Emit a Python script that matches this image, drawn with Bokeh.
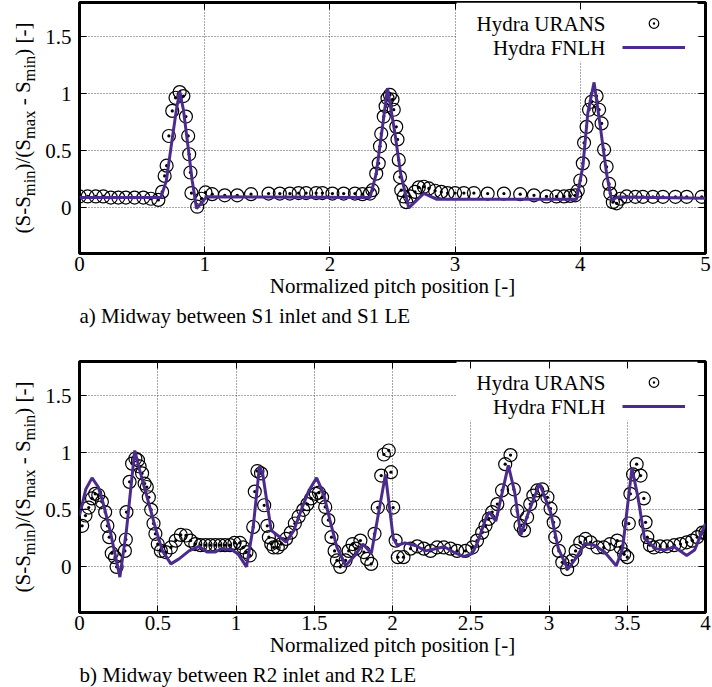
import numpy as np
from bokeh.plotting import figure
from bokeh.models import (FixedTicker, PrintfTickFormatter, LinearAxis, Title, Label,
                          BoxAnnotation, Legend, LegendItem, Range1d)
from bokeh.core.properties import value
from bokeh.layouts import column, row
from bokeh.embed import file_html
from bokeh.resources import INLINE

# ---------------- data: panel a) ----------------
urans_a_x = [0.0, 0.065, 0.13, 0.19, 0.25, 0.31, 0.37, 0.44, 0.51, 0.57, 0.63, 0.66,
             0.68, 0.696, 0.714, 0.741, 0.767, 0.80, 0.83, 0.85, 0.868, 0.876, 0.886, 0.894,
             0.94, 0.974, 1.006, 1.06, 1.16, 1.26, 1.37, 1.51, 1.60, 1.68, 1.75, 1.81,
             1.89, 1.94, 2.02, 2.11, 2.2, 2.26, 2.32, 2.34, 2.37, 2.39, 2.40, 2.41,
             2.43, 2.445, 2.46, 2.48, 2.50, 2.51, 2.53, 2.54, 2.55, 2.56, 2.57, 2.59,
             2.61, 2.64, 2.68, 2.71, 2.75, 2.79, 2.84, 2.89, 2.94, 3.0, 3.07, 3.15,
             3.26, 3.39, 3.52, 3.63, 3.73, 3.81, 3.87, 3.92, 3.96, 3.98, 4.00, 4.02,
             4.03, 4.05, 4.07, 4.09, 4.13, 4.15, 4.17, 4.19, 4.21, 4.23, 4.24, 4.26,
             4.29, 4.32, 4.37, 4.44, 4.5, 4.58, 4.66, 4.76, 4.85, 4.97]
urans_a_y = [0.10, 0.10, 0.10, 0.10, 0.09, 0.09, 0.09, 0.09, 0.09, 0.08, 0.07, 0.14,
             0.28, 0.37, 0.63, 0.85, 0.965, 1.015, 0.98, 0.80, 0.63, 0.47, 0.31, 0.13,
             0.01, 0.08, 0.135, 0.12, 0.11, 0.11, 0.12, 0.125, 0.125, 0.125, 0.13, 0.13,
             0.13, 0.13, 0.125, 0.125, 0.125, 0.12, 0.125, 0.155, 0.30, 0.39, 0.54, 0.65,
             0.80, 0.89, 0.96, 0.99, 0.95, 0.86, 0.71, 0.60, 0.42, 0.27, 0.155, 0.10,
             0.05, 0.10, 0.14, 0.18, 0.185, 0.17, 0.15, 0.14, 0.13, 0.13, 0.13, 0.13,
             0.125, 0.125, 0.12, 0.11, 0.10, 0.10, 0.10, 0.105, 0.11, 0.15, 0.24, 0.39,
             0.57, 0.71, 0.86, 0.93, 0.98, 0.86, 0.74, 0.51, 0.36, 0.21, 0.125, 0.05,
             0.04, 0.08, 0.10, 0.097, 0.097, 0.097, 0.097, 0.097, 0.097, 0.097]
fnlh_a_x = [0.0, 0.65, 0.694, 0.74, 0.774, 0.80, 0.83, 0.87, 0.90, 0.935, 1.016,
            2.32, 2.37, 2.42, 2.46, 2.52, 2.565, 2.63, 2.75, 2.85,
            3.97, 4.02, 4.06, 4.11, 4.16, 4.21, 4.25, 4.30, 5.0]
fnlh_a_y = [0.09, 0.09, 0.24, 0.60, 0.86, 1.02, 0.86, 0.51, 0.24, -0.005, 0.097,
            0.09, 0.30, 0.71, 1.05, 0.65, 0.30, 0.0, 0.126, 0.076,
            0.076, 0.36, 0.83, 1.10, 0.71, 0.30, 0.067, 0.095, 0.085]

# ---------------- data: panel b) ----------------
urans_b_x = [0.017, 0.038, 0.059, 0.08, 0.10, 0.12, 0.143, 0.164, 0.178, 0.19, 0.206, 0.227,
             0.237, 0.29, 0.296, 0.30, 0.32, 0.336, 0.357, 0.374, 0.384, 0.40, 0.416, 0.43,
             0.443, 0.458, 0.473, 0.485, 0.50, 0.52, 0.55, 0.584, 0.615, 0.647, 0.68, 0.71,
             0.74, 0.773, 0.805, 0.836, 0.868, 0.90, 0.93, 0.962, 0.99, 1.025, 1.046, 1.067,
             1.088, 1.11, 1.12, 1.137, 1.16, 1.18, 1.20, 1.21, 1.225, 1.24, 1.267, 1.29,
             1.32, 1.35, 1.376, 1.40, 1.43, 1.456, 1.48, 1.51, 1.53, 1.55, 1.57, 1.59,
             1.61, 1.63, 1.645, 1.666, 1.70, 1.72, 1.745, 1.765, 1.795, 1.817, 1.838, 1.864,
             1.885, 1.906, 1.928, 1.945, 1.976, 1.99, 2.004, 2.02, 2.034, 2.07, 2.115, 2.158,
             2.20, 2.243, 2.285, 2.328, 2.37, 2.413, 2.466, 2.51, 2.54, 2.573, 2.594, 2.615,
             2.637, 2.67, 2.70, 2.72, 2.754, 2.775, 2.797, 2.818, 2.84, 2.86, 2.88, 2.90,
             2.925, 2.956, 2.99, 3.01, 3.03, 3.04, 3.063, 3.085, 3.116, 3.148, 3.17, 3.20,
             3.233, 3.265, 3.31, 3.35, 3.39, 3.436, 3.457, 3.48, 3.50, 3.51, 3.52, 3.537,
             3.56, 3.585, 3.606, 3.617, 3.628, 3.645, 3.67, 3.71, 3.755, 3.80, 3.84, 3.88,
             3.915, 3.947, 3.98, 4.0]
urans_b_y = [0.36, 0.45, 0.52, 0.60, 0.64, 0.63, 0.57, 0.48, 0.36, 0.26, 0.12, 0.085,
             0.0, 0.14, 0.24, 0.48, 0.745, 0.905, 0.95, 0.935, 0.88, 0.82, 0.73, 0.70,
             0.61, 0.50, 0.38, 0.29, 0.20, 0.14, 0.13, 0.17, 0.23, 0.28, 0.275, 0.23,
             0.20, 0.19, 0.19, 0.19, 0.19, 0.19, 0.19, 0.19, 0.21, 0.21, 0.17, 0.13,
             0.10, 0.35, 0.66, 0.84, 0.82, 0.54, 0.36, 0.26, 0.20, 0.17, 0.17, 0.20,
             0.245, 0.30, 0.38, 0.44, 0.50, 0.55, 0.60, 0.64, 0.65, 0.61, 0.525, 0.41,
             0.26, 0.14, 0.056, 0.0, 0.056, 0.14, 0.20, 0.16, 0.23, 0.13, 0.07, 0.026,
             0.29, 0.52, 0.80, 0.985, 1.02, 0.83, 0.52, 0.23, 0.085, 0.085, 0.16, 0.18,
             0.16, 0.14, 0.17, 0.17, 0.16, 0.14, 0.14, 0.17, 0.23, 0.30, 0.36, 0.42,
             0.48, 0.55, 0.67, 0.90, 0.98, 0.68, 0.49, 0.36, 0.32, 0.435, 0.55, 0.625,
             0.67, 0.68, 0.61, 0.51, 0.39, 0.26, 0.14, 0.04, -0.02, 0.055, 0.14, 0.215,
             0.245, 0.215, 0.17, 0.17, 0.20, 0.23, 0.17, 0.11, 0.085, 0.38, 0.64, 0.81,
             0.90, 0.80, 0.60, 0.39, 0.26, 0.19, 0.17, 0.18, 0.18, 0.19, 0.20, 0.215,
             0.23, 0.26, 0.30, 0.30]
fnlh_b_x = [0.0, 0.04, 0.08, 0.12, 0.153, 0.195, 0.258, 0.30, 0.353, 0.384, 0.426, 0.458,
            0.49, 0.53, 0.584, 0.636, 0.70, 0.763, 0.815, 0.868, 0.91, 0.973, 1.015, 1.067,
            1.11, 1.15, 1.17, 1.225, 1.267, 1.32, 1.37, 1.424, 1.466, 1.515, 1.56, 1.60,
            1.645, 1.70, 1.76, 1.81, 1.865, 1.955, 2.005, 2.03, 2.08, 2.15, 2.21, 2.26,
            2.33, 2.39, 2.455, 2.51, 2.545, 2.60, 2.62, 2.66, 2.74, 2.78, 2.82, 2.87,
            2.94, 3.01, 3.06, 3.12, 3.17, 3.23, 3.29, 3.355, 3.43, 3.47, 3.53, 3.57,
            3.61, 3.68, 3.74, 3.80, 3.88, 3.93, 4.0]
fnlh_b_y = [0.45, 0.68, 0.78, 0.70, 0.55, 0.32, -0.09, 0.32, 1.02, 0.85, 0.64, 0.48,
            0.32, 0.14, 0.026, 0.07, 0.14, 0.18, 0.13, 0.13, 0.16, 0.15, 0.11, 0.0,
            0.35, 0.88, 0.82, 0.32, 0.275, 0.217, 0.32, 0.525, 0.67, 0.78, 0.64, 0.41,
            0.17, 0.01, 0.10, 0.20, 0.12, 0.81, 0.25, 0.19, 0.21, 0.185, 0.14, 0.155,
            0.176, 0.13, 0.09, 0.117, 0.22, 0.44, 0.48, 0.40, 0.89, 0.66, 0.28, 0.48,
            0.73, 0.48, 0.16, -0.02, 0.073, 0.205, 0.19, 0.13, 0.01, 0.16, 0.865, 0.60,
            0.25, 0.16, 0.147, 0.176, 0.10, 0.147, 0.38]

x_ticks_a = [0, 1, 2, 3, 4, 5]
x_ticks_b = [0, 0.5, 1, 1.5, 2, 2.5, 3, 3.5, 4]
y_ticks = [0, 0.5, 1, 1.5]
series_names = ["Hydra URANS", "Hydra FNLH"]
x_title = "Normalized pitch position [-]"
captions = ["a) Midway between S1 inlet and S1 LE", "b) Midway between R2 inlet and R2 LE"]
# y-axis title pieces: (text, is_subscript)
y_title_parts = [("(S-S", False), ("min", True), (")/(S", False), ("max", True),
                 ("- S", False), ("min", True), (") [-]", False)]

assert len(urans_a_x) == len(urans_a_y)
assert len(fnlh_a_x) == len(fnlh_a_y)
assert len(urans_b_x) == len(urans_b_y)
assert len(fnlh_b_x) == len(fnlh_b_y)

FONT = "Liberation Serif, serif"
F_MAIN = 21.0
F_SUB = 16.5
FS = "21px"
PURPLE = "#4c2b8e"
GRID = "#505050"
LAB_W = 40          # width of the strip that carries the rotated y title
LEFT = 79           # canvas x of the frame's left edge
Y0, Y1 = -0.4, 1.8
FRAME_H = 251.0
PX = (Y1 - Y0) / FRAME_H   # data units per pixel on the y axis


def text_width(txt, size):
    # Times / Liberation Serif advance widths (em units)
    w = {"(": .333, ")": .333, "S": .556, "-": .333, "/": .278, " ": .25, "[": .333,
         "]": .333, "m": .778, "i": .278, "n": .5, "a": .444, "x": .5}
    return sum(w[c] for c in txt) * size


def make_ylabel_fig(height, top, bottom):
    q = figure(width=LAB_W, height=height, x_range=Range1d(0, LAB_W), y_range=Range1d(Y0, Y1),
               output_backend="svg", toolbar_location=None, x_axis_type=None, y_axis_type=None,
               title=None, min_border=0, min_border_left=0, min_border_right=0,
               min_border_top=top, min_border_bottom=bottom)
    q.outline_line_color = None
    q.background_fill_color = "white"
    q.border_fill_color = "white"
    xs_m, ys_m, ts_m, xs_s, ys_s, ts_s = [], [], [], [], [], []
    ypx = 20.0
    for txt, sub in y_title_parts:
        size = F_SUB if sub else F_MAIN
        if txt.startswith("-"):
            ypx += 0.25 * F_MAIN
        if sub:
            xs_s.append(28.5); ys_s.append(Y0 + ypx * PX); ts_s.append(txt)
        else:
            xs_m.append(22.5); ys_m.append(Y0 + ypx * PX); ts_m.append(txt)
        ypx += text_width(txt, size)
    q.text(x=xs_m, y=ys_m, text=ts_m, angle=np.pi / 2, text_align="left",
           text_baseline="middle", text_font=value(FONT), text_font_size=value(FS),
           text_color="black")
    q.text(x=xs_s, y=ys_s, text=ts_s, angle=np.pi / 2, text_align="left",
           text_baseline="middle", text_font=value(FONT), text_font_size=value("%gpx" % F_SUB),
           text_color="black")
    return q


def make_panel(ux, uy, fx, fy, xmax, xticks, caption, height, top, bottom):
    p = figure(width=712 - LAB_W, height=height, x_range=Range1d(0, xmax),
               y_range=Range1d(Y0, Y1), output_backend="svg", toolbar_location=None,
               min_border_left=LEFT - LAB_W, min_border_right=7, min_border_top=top,
               min_border_bottom=bottom)
    p.background_fill_color = "white"
    p.border_fill_color = "white"
    p.outline_line_color = "black"
    p.outline_line_width = 3

    fmt = PrintfTickFormatter(format="%g")
    for ax, ticks in ((p.xaxis[0], xticks), (p.yaxis[0], y_ticks)):
        ax.ticker = FixedTicker(ticks=ticks)
        ax.formatter = fmt
        ax.major_tick_in = 7
        ax.major_tick_out = 0
        ax.major_tick_line_color = "black"
        ax.major_tick_line_width = 1
        ax.minor_tick_line_color = None
        ax.axis_line_color = None
        ax.major_label_text_font = FONT
        ax.major_label_text_font_size = FS
        ax.major_label_text_color = "black"
    p.xaxis[0].major_label_standoff = 3
    p.yaxis[0].major_label_standoff = 8
    p.xaxis[0].axis_label = x_title
    p.xaxis[0].axis_label_text_font = FONT
    p.xaxis[0].axis_label_text_font_size = FS
    p.xaxis[0].axis_label_text_font_style = "normal"
    p.xaxis[0].axis_label_text_color = "black"
    p.xaxis[0].axis_label_standoff = 0

    for loc, ticks in (("above", xticks), ("right", y_ticks)):
        ax = LinearAxis(ticker=FixedTicker(ticks=ticks), major_tick_in=7, major_tick_out=0,
                        major_tick_line_color="black", minor_tick_line_color=None,
                        axis_line_color=None, major_label_text_font_size="0px",
                        major_label_text_color=None, major_label_standoff=0)
        p.add_layout(ax, loc)

    p.xgrid.ticker = FixedTicker(ticks=xticks)
    p.ygrid.ticker = FixedTicker(ticks=y_ticks)
    for g in (p.xgrid[0], p.ygrid[0]):
        g.grid_line_color = GRID
        g.grid_line_width = 1
        g.grid_line_dash = "1 2"

    # opaque key area
    p.add_layout(BoxAnnotation(left=377, right=618, bottom=192, top=251,
                               left_units="screen", right_units="screen",
                               bottom_units="screen", top_units="screen",
                               fill_color="white", fill_alpha=1.0, line_color=None,
                               level="underlay"))

    sc = p.scatter(ux, uy, marker="circle_dot", size=13, line_color="black", line_width=1.2,
                   fill_color=None)
    ln = p.line(fx, fy, line_color=PURPLE, line_width=3)

    leg = Legend(items=[LegendItem(label=value(""), renderers=[sc]),
                        LegendItem(label=value(""), renderers=[ln])],
                 location=(543, 194), orientation="vertical", padding=0, margin=0, spacing=0,
                 glyph_width=63, glyph_height=24, label_width=0, label_standoff=0,
                 label_height=0, border_line_color=None, background_fill_alpha=0,
                 label_text_font_size="1px")
    p.add_layout(leg)
    for i, name in enumerate(series_names):
        p.add_layout(Label(x=526, y=230 - 24 * i, x_units="screen", y_units="screen", text=name,
                           text_align="right", text_baseline="middle", text_font=FONT,
                           text_font_size=FS, text_color="black"))

    p.add_layout(Title(text=caption, align="left", text_font=FONT, text_font_size=FS,
                       text_font_style="normal", text_color="black", standoff=2), "below")
    return p


p1 = make_panel(urans_a_x, urans_a_y, fnlh_a_x, fnlh_a_y, 5, x_ticks_a, captions[0],
                height=335, top=2, bottom=82)
p2 = make_panel(urans_b_x, urans_b_y, fnlh_b_x, fnlh_b_y, 4, x_ticks_b, captions[1],
                height=352, top=26, bottom=75)
q1 = make_ylabel_fig(335, 2, 82)
q2 = make_ylabel_fig(352, 26, 75)

layout = column(row(q1, p1, spacing=0), row(q2, p2, spacing=0), spacing=0)
open("out.html", "w").write(file_html(layout, INLINE))
